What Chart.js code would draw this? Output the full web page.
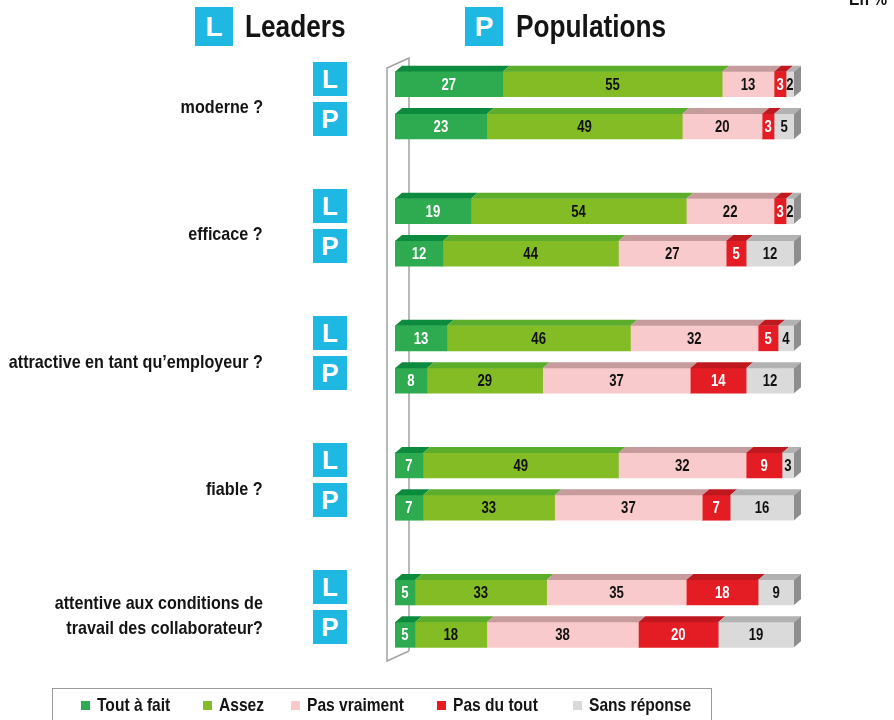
<!DOCTYPE html>
<html>
<head>
<meta charset="utf-8">
<script src="https://cdn.jsdelivr.net/npm/chart.js@4.4.0/dist/chart.umd.min.js"></script>
<style>
  body { margin: 0; background: #fff; }
  #wrap {
    position: relative; width: 894px; height: 720px; overflow: hidden;
    font-family: 'Liberation Sans', Arial, sans-serif;
    font-weight: bold; color: #141414;
  }
  #wrap canvas { position: absolute; left: 0; top: 0; }
  /* Arial Narrow look: squeeze the regular bold face */
  .n { display: inline-block; transform: scaleX(0.82); transform-origin: left center; white-space: nowrap; }
  .badge {
    position: absolute; width: 34px; height: 34px; background: #1fb8e2;
    color: #fff; font-size: 26px; line-height: 34px; text-align: center;
  }
  .head { position: absolute; top: 7px; height: 39px; line-height: 39px; font-size: 32px; white-space: nowrap; }
  .head .badge { position: absolute; left: 0; top: 0; width: 38px; height: 39px; line-height: 39px; font-size: 28px; }
  .q {
    position: absolute; right: 631px; text-align: right; font-size: 19px;
    line-height: 25px; white-space: nowrap; transform: translateY(-50%);
  }
  .q .n { transform: scaleX(0.85); transform-origin: right center; }
  #legend {
    position: absolute; left: 52px; top: 688px; width: 658px; height: 36px;
    border: 1.5px solid #9a9a9a;
  }
  .item { position: absolute; top: 4px; font-size: 19px; line-height: 24px; white-space: nowrap; }
  .item i { display: inline-block; width: 9px; height: 9px; margin-right: 7px; vertical-align: 1px; }
</style>
</head>
<body>
<div id="wrap">
  <canvas id="chart" width="894" height="720"></canvas>
  <div class="head" style="left:195px"><span class="badge">L</span><span class="n" style="margin-left:50px">Leaders</span></div>
  <div class="head" style="left:465px"><span class="badge">P</span><span class="n" style="margin-left:51px">Populations</span></div>
  <div style="position:absolute;left:849px;top:-12px;font-size:19px;white-space:nowrap"><span class="n">En %</span></div>
  <div id="labels"></div>
  <div id="legend"></div>
</div>
<script>
const categories = ['moderne ?', 'efficace ?', 'attractive en tant qu’employeur ?', 'fiable ?',
  ['attentive aux conditions de', 'travail des collaborateur?']];
const respondents = ['L', 'P'];
const seriesNames = ['Tout à fait', 'Assez', 'Pas vraiment', 'Pas du tout', 'Sans réponse'];

// values in order: moderne L, moderne P, efficace L, efficace P, ...
const toutAFait   = [27, 23, 19, 12, 13, 8, 7, 7, 5, 5];
const assez       = [55, 49, 54, 44, 46, 29, 49, 33, 33, 18];
const pasVraiment = [13, 20, 22, 27, 32, 37, 32, 37, 35, 38];
const pasDuTout   = [3, 3, 3, 5, 5, 14, 9, 7, 18, 20];
const sansReponse = [2, 5, 2, 12, 4, 12, 3, 16, 9, 19];

const frontColors = ['#2eaa50', '#84bc26', '#f8cacb', '#e41d25', '#dadada'];
const topColors   = ['#0c8a3d', '#5dad2c', '#c69b9c', '#bf181e', '#b2b2b2'];
const sideColor = '#8e8e8e';
const labelColors = ['#fff', '#111', '#111', '#fff', '#111'];
const DX = 7, DY = 6;

// rows: L, P, gap, L, P, gap ...
const rows = [];
categories.forEach((c, i) => {
  respondents.forEach(r => rows.push(r));
  if (i < categories.length - 1) rows.push('');
});
function pad(arr) {
  const out = [];
  categories.forEach((c, i) => {
    out.push(arr[2 * i], arr[2 * i + 1]);
    if (i < categories.length - 1) out.push(null);
  });
  return out;
}
const series = [toutAFait, assez, pasVraiment, pasDuTout, sansReponse];

function poly(ctx, pts, fill) {
  ctx.beginPath();
  ctx.moveTo(pts[0][0], pts[0][1]);
  pts.slice(1).forEach(p => ctx.lineTo(p[0], p[1]));
  ctx.closePath();
  ctx.fillStyle = fill;
  ctx.fill();
}

const wall = {
  id: 'wall',
  beforeDatasetsDraw(chart) {
    const {ctx, chartArea: a} = chart;
    const fx = a.left - 8, bx = a.left + 14;
    ctx.save();
    ctx.strokeStyle = '#a3a3a3';
    ctx.lineWidth = 1.5;
    ctx.beginPath();
    ctx.moveTo(bx, a.bottom - 5);
    ctx.lineTo(fx, a.bottom + 5);
    ctx.lineTo(fx, a.top + 5);
    ctx.lineTo(bx, a.top - 5);
    ctx.lineTo(bx, a.bottom - 5);
    ctx.stroke();
    ctx.restore();
  }
};

const faces = {
  id: 'faces',
  afterDatasetsDraw(chart) {
    const ctx = chart.ctx;
    const last = chart.data.datasets.length - 1;
    ctx.save();
    chart.data.datasets.forEach((ds, k) => {
      chart.getDatasetMeta(k).data.forEach((bar, i) => {
        if (ds.data[i] == null) return;
        const {x, y, base, height} = bar.getProps(['x', 'y', 'base', 'height'], true);
        const top = y - height / 2, bottom = y + height / 2;
        poly(ctx, [[base, top], [x, top], [x + DX, top - DY], [base + DX, top - DY]], topColors[k]);
        if (k === last) {
          poly(ctx, [[x, top], [x + DX, top - DY], [x + DX, bottom - DY], [x, bottom]], sideColor);
        }
      });
    });
    ctx.font = "bold 16px 'Liberation Sans', Arial, sans-serif";
    ctx.textAlign = 'center';
    ctx.textBaseline = 'middle';
    chart.data.datasets.forEach((ds, k) => {
      chart.getDatasetMeta(k).data.forEach((bar, i) => {
        if (ds.data[i] == null) return;
        const {x, y, base} = bar.getProps(['x', 'y', 'base'], true);
        ctx.save();
        ctx.translate((x + base) / 2, y + 1);
        ctx.scale(0.82, 1);
        ctx.fillStyle = labelColors[k];
        ctx.fillText(ds.data[i], 0, 0);
        ctx.restore();
      });
    });
    ctx.restore();
  }
};

const placeHtml = {
  id: 'placeHtml',
  afterLayout(chart) {
    const ys = chart.scales.y;
    const box = document.getElementById('labels');
    box.innerHTML = '';
    categories.forEach((c, i) => {
      const yL = ys.getPixelForValue(3 * i);
      const yP = ys.getPixelForValue(3 * i + 1);
      const q = document.createElement('div');
      q.className = 'q';
      q.innerHTML = '<span class="n">' + [].concat(c).join('<br>') + '</span>';
      q.style.top = ((yL + yP) / 2 + 1) + 'px';
      box.appendChild(q);
      [[respondents[0], yL - 22], [respondents[1], yP - 25]].forEach(([t, top]) => {
        const b = document.createElement('div');
        b.className = 'badge';
        b.textContent = t;
        b.style.left = '313px';
        b.style.top = top + 'px';
        box.appendChild(b);
      });
    });
  }
};

// legend
const legendLeft = [81, 203, 291, 437, 573];
const legend = document.getElementById('legend');
seriesNames.forEach((n, k) => {
  const d = document.createElement('div');
  d.className = 'item';
  d.style.left = (legendLeft[k] - 53) + 'px';
  d.innerHTML = '<i style="background:' + frontColors[k] + '"></i><span class="n">' + n + '</span>';
  legend.appendChild(d);
});

new Chart(document.getElementById('chart'), {
  type: 'bar',
  data: {
    labels: rows,
    datasets: seriesNames.map((name, k) => ({
      label: name,
      data: pad(series[k]),
      backgroundColor: frontColors[k],
      borderWidth: 0,
      barThickness: 25
    }))
  },
  options: {
    indexAxis: 'y',
    responsive: false,
    animation: false,
    layout: { padding: { left: 395, right: 100, top: 63, bottom: 64 } },
    scales: {
      x: { stacked: true, min: 0, max: 100, display: false },
      y: { stacked: true, display: false }
    },
    plugins: { legend: { display: false }, tooltip: { enabled: false } }
  },
  plugins: [wall, faces, placeHtml]
});
</script>
</body>
</html>
